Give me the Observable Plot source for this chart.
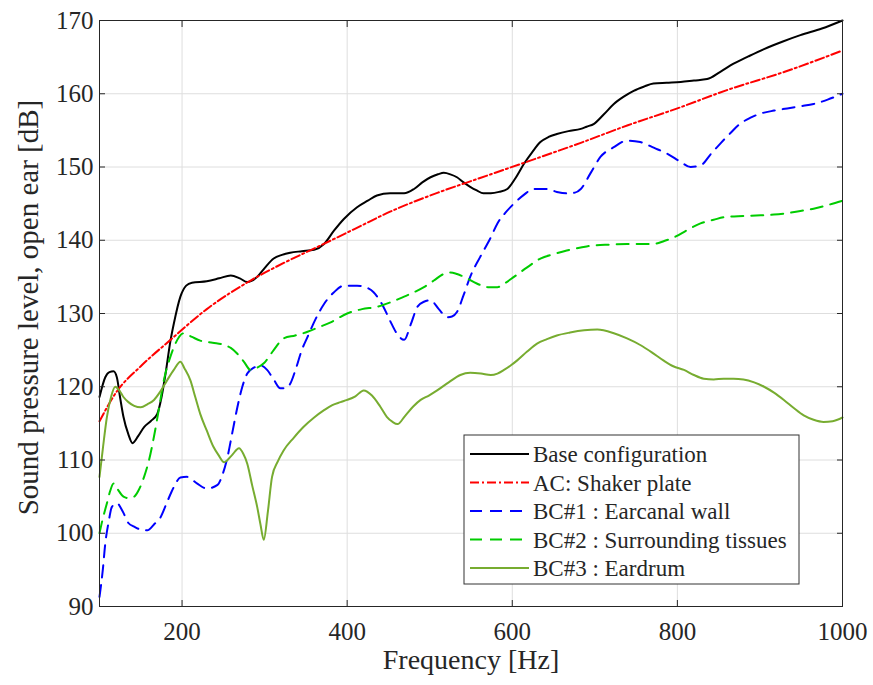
<!DOCTYPE html>
<html><head><meta charset="utf-8">
<script src="https://cdn.jsdelivr.net/npm/d3@7"></script>
<script src="https://cdn.jsdelivr.net/npm/@observablehq/plot@0.6"></script>
<style>body{margin:0;background:#fff}</style>
</head><body><div id="chart"></div>
<script>
const seriesNames = ["Base configuration","AC: Shaker plate","BC#1 : Earcanal wall","BC#2 : Surrounding tissues","BC#3 : Eardrum"];
const seriesColors = ["#000000","#ff0000","#0000ff","#00cc00","#77ac30"];
const seriesDash = [null,"9,3,2,3","12,8","12,8",null];

const baseConfig = [[100,118.6],[107,121.3],[112,122.0],[117,122.1],[121,121.3],[125,118.5],[129,115.9],[135,113.5],[140,112.3],[147,113.3],[154,114.5],[162,115.3],[170,116.3],[175,118.5],[180,121.8],[186,126.3],[190,128.6],[198,132.3],[205,133.8],[212,134.2],[230,134.4],[245,134.8],[259,135.2],[270,134.8],[279,134.3],[291,135.0],[300,136.2],[311,137.5],[321,138.0],[331,138.3],[345,138.5],[360,138.7],[372,139.5],[384,141.3],[396,142.9],[412,144.5],[425,145.4],[436,146.1],[452,146.4],[469,146.4],[481,147.0],[491,147.9],[501,148.6],[510,149.0],[517,149.2],[525,149.0],[533,148.6],[541,147.9],[549,147.3],[557,146.8],[565,146.4],[574,146.4],[584,146.6],[594,147.0],[604,148.5],[614,150.4],[624,152.0],[634,153.4],[644,154.1],[654,154.5],[668,154.9],[683,155.2],[690,155.5],[699,155.9],[711,157.2],[723,158.6],[735,159.6],[747,160.4],[760,161.0],[771,161.4],[787,161.5],[804,161.6],[820,161.8],[836,162.0],[852,163.0],[868,164.1],[886,165.1],[905,166.1],[927,167.1],[949,168.0],[975,168.9],[1000,170.0]];
const acShaker = [[100,115.3],[120,119.2],[150,122.8],[186,126.4],[230,130.6],[283,134.5],[325,137.0],[368,139.3],[410,141.6],[452,143.9],[510,146.5],[561,148.5],[620,150.8],[683,153.3],[740,155.7],[800,158.0],[860,160.5],[930,163.0],[1000,165.9]];
const bc1Earcanal = [[100,91.3],[104,95.0],[107,98.6],[111,101.5],[115,103.6],[121,104.1],[128,103.0],[135,101.4],[142,100.9],[150,100.5],[158,100.4],[166,101.2],[174,102.2],[182,104.3],[190,106.3],[198,107.6],[206,107.7],[218,106.8],[230,106.1],[243,106.6],[249,108.0],[255,110.4],[261,113.8],[267,117.2],[273,120.0],[279,121.8],[287,122.6],[295,122.9],[303,122.3],[311,121.0],[319,119.8],[325,119.8],[331,120.4],[338,122.5],[345,125.0],[352,126.8],[362,129.3],[372,131.3],[384,132.9],[396,133.8],[412,133.8],[422,133.6],[432,132.9],[444,130.9],[452,129.0],[460,127.3],[469,126.4],[477,128.5],[485,130.9],[493,131.6],[501,131.8],[511,130.6],[521,129.5],[527,129.6],[533,130.2],[541,132.5],[549,135.0],[561,137.7],[574,140.4],[582,142.3],[592,143.8],[602,145.0],[614,146.2],[626,147.0],[642,147.0],[654,146.6],[666,146.4],[676,146.5],[683,147.0],[695,149.2],[707,151.4],[723,152.7],[739,153.6],[755,153.4],[772,152.6],[788,151.8],[804,150.7],[816,150.0],[828,150.2],[840,151.7],[852,153.2],[864,154.6],[876,155.9],[888,156.7],[901,157.3],[917,157.7],[933,158.0],[949,158.3],[965,158.6],[982,159.2],[1000,160.0]];
const bc2Tissues = [[100,100.0],[104,102.0],[109,104.1],[113,105.8],[117,106.8],[122,106.0],[129,105.0],[135,104.8],[142,105.0],[148,106.0],[154,107.7],[160,110.0],[166,113.2],[172,117.0],[178,120.9],[185,123.8],[192,125.9],[202,127.3],[212,126.8],[222,126.3],[237,126.0],[251,125.7],[259,125.3],[267,124.5],[275,123.4],[283,122.3],[291,122.6],[299,123.2],[311,125.0],[323,126.6],[337,127.0],[352,127.5],[365,128.1],[380,128.8],[400,130.0],[418,130.6],[436,130.9],[452,131.5],[469,132.3],[481,132.9],[493,133.6],[505,134.5],[517,135.4],[525,135.6],[533,135.4],[545,134.8],[557,134.1],[570,133.6],[582,133.6],[592,134.2],[602,135.0],[618,136.3],[634,137.5],[650,138.1],[666,138.6],[683,139.0],[699,139.3],[719,139.4],[739,139.5],[755,139.5],[771,139.5],[784,139.9],[796,140.4],[812,141.4],[828,142.3],[844,142.8],[860,143.2],[880,143.3],[901,143.4],[917,143.5],[933,143.7],[949,144.0],[965,144.3],[982,144.8],[1000,145.4]];
const bc3Eardrum = [[100,107.7],[104,111.5],[109,115.9],[114,118.6],[119,120.0],[124,119.5],[129,118.6],[135,117.9],[142,117.4],[150,117.2],[158,117.6],[166,118.2],[174,119.4],[182,120.9],[190,122.3],[198,123.4],[203,122.5],[210,120.9],[216,118.6],[222,116.3],[230,114.0],[238,111.8],[244,110.7],[251,109.7],[260,110.6],[269,111.6],[274,110.9],[279,109.5],[285,106.5],[291,103.6],[295,101.2],[299,99.1],[304,103.0],[309,107.7],[316,109.8],[323,111.3],[335,113.0],[347,114.5],[360,115.8],[372,116.8],[382,117.5],[392,117.9],[400,118.2],[410,118.7],[420,119.5],[430,118.8],[440,117.3],[448,115.9],[455,115.2],[461,114.9],[470,116.0],[480,117.3],[489,118.2],[499,118.8],[509,119.5],[523,120.6],[537,121.6],[549,121.9],[562,121.8],[574,121.6],[582,121.8],[590,122.3],[598,122.9],[606,123.6],[618,124.8],[630,125.9],[642,126.5],[654,127.0],[670,127.4],[687,127.7],[703,127.8],[723,127.3],[739,126.6],[755,125.7],[769,124.7],[783,123.6],[795,122.8],[808,122.3],[820,121.6],[832,121.1],[844,121.0],[856,121.1],[868,121.1],[880,121.0],[893,120.6],[905,120.0],[917,119.2],[929,118.2],[941,117.1],[953,116.1],[965,115.5],[977,115.2],[988,115.3],[1000,115.8]];

const xTicks = [200,400,600,800,1000];
const yTicks = [90,100,110,120,130,140,150,160,170];
const xLabel = "Frequency [Hz]";
const yLabel = "Sound pressure level, open ear [dB]";

const seriesData = [baseConfig, acShaker, bc1Earcanal, bc2Tissues, bc3Eardrum];
const font = "'Liberation Serif','Times New Roman',serif";
const axisColor = "#262626";

const lineMarks = seriesData.map((data, i) => Plot.line(data, {
  x: d => d[0], y: d => d[1],
  stroke: seriesColors[i], strokeWidth: 2,
  strokeDasharray: seriesDash[i] || undefined,
  curve: "monotone-x"
}));

const chart = Plot.plot({
  width: 873, height: 685,
  marginLeft: 99, marginRight: 31, marginTop: 20, marginBottom: 79,
  style: {fontFamily: font, background: "white", color: axisColor, overflow: "visible"},
  x: {domain: [100, 1000]},
  y: {domain: [90, 170]},
  marks: [
    Plot.gridX(xTicks, {stroke: "#dedede", strokeOpacity: 1, strokeWidth: 1}),
    Plot.gridY(yTicks, {stroke: "#dedede", strokeOpacity: 1, strokeWidth: 1}),
    ...lineMarks,
    Plot.axisX(xTicks, {anchor: "bottom", tickSize: -6, tickPadding: 22, fontSize: 25, tickFormat: d => String(d), label: null, stroke: axisColor, fill: "#262626"}),
    Plot.axisX(xTicks, {anchor: "top", tickSize: -6, tickFormat: () => "", label: null, stroke: axisColor}),
    Plot.axisY(yTicks, {anchor: "left", tickSize: -6, tickPadding: 12, fontSize: 25, tickFormat: d => String(d), label: null, stroke: axisColor, fill: "#262626"}),
    Plot.axisY(yTicks, {anchor: "right", tickSize: -6, tickFormat: () => "", label: null, stroke: axisColor}),
    Plot.frame({stroke: axisColor, strokeWidth: 1}),
    Plot.text([xLabel], {frameAnchor: "bottom", lineAnchor: "top", textAnchor: "middle", dy: 43, fontSize: 28, fill: "#262626"}),
    Plot.text([yLabel], {frameAnchor: "left", rotate: -90, lineAnchor: "middle", textAnchor: "middle", dx: -71, dy: -6, fontSize: 29, fill: "#262626"})
  ]
});
document.getElementById("chart").appendChild(chart);

// Legend inside the plot (upper-left corner at 464,435 in SVG pixels)
const svg = d3.select(chart);
const lg = svg.append("g").attr("transform", "translate(464,435)");
lg.append("rect").attr("width", 335).attr("height", 149).attr("fill", "white").attr("stroke", "#333").attr("stroke-width", 1);
seriesNames.forEach((name, i) => {
  const cy = 19 + i * 28.5;
  lg.append("line").attr("x1", 6).attr("x2", 65).attr("y1", cy).attr("y2", cy)
    .attr("stroke", seriesColors[i]).attr("stroke-width", 2)
    .attr("stroke-dasharray", seriesDash[i] || null);
  lg.append("text").attr("x", 69).attr("y", cy).attr("dy", "0.35em")
    .attr("text-anchor", "start")
    .attr("font-family", font).attr("font-size", 23).attr("fill", "#262626").text(name);
});
</script>
</body></html>
